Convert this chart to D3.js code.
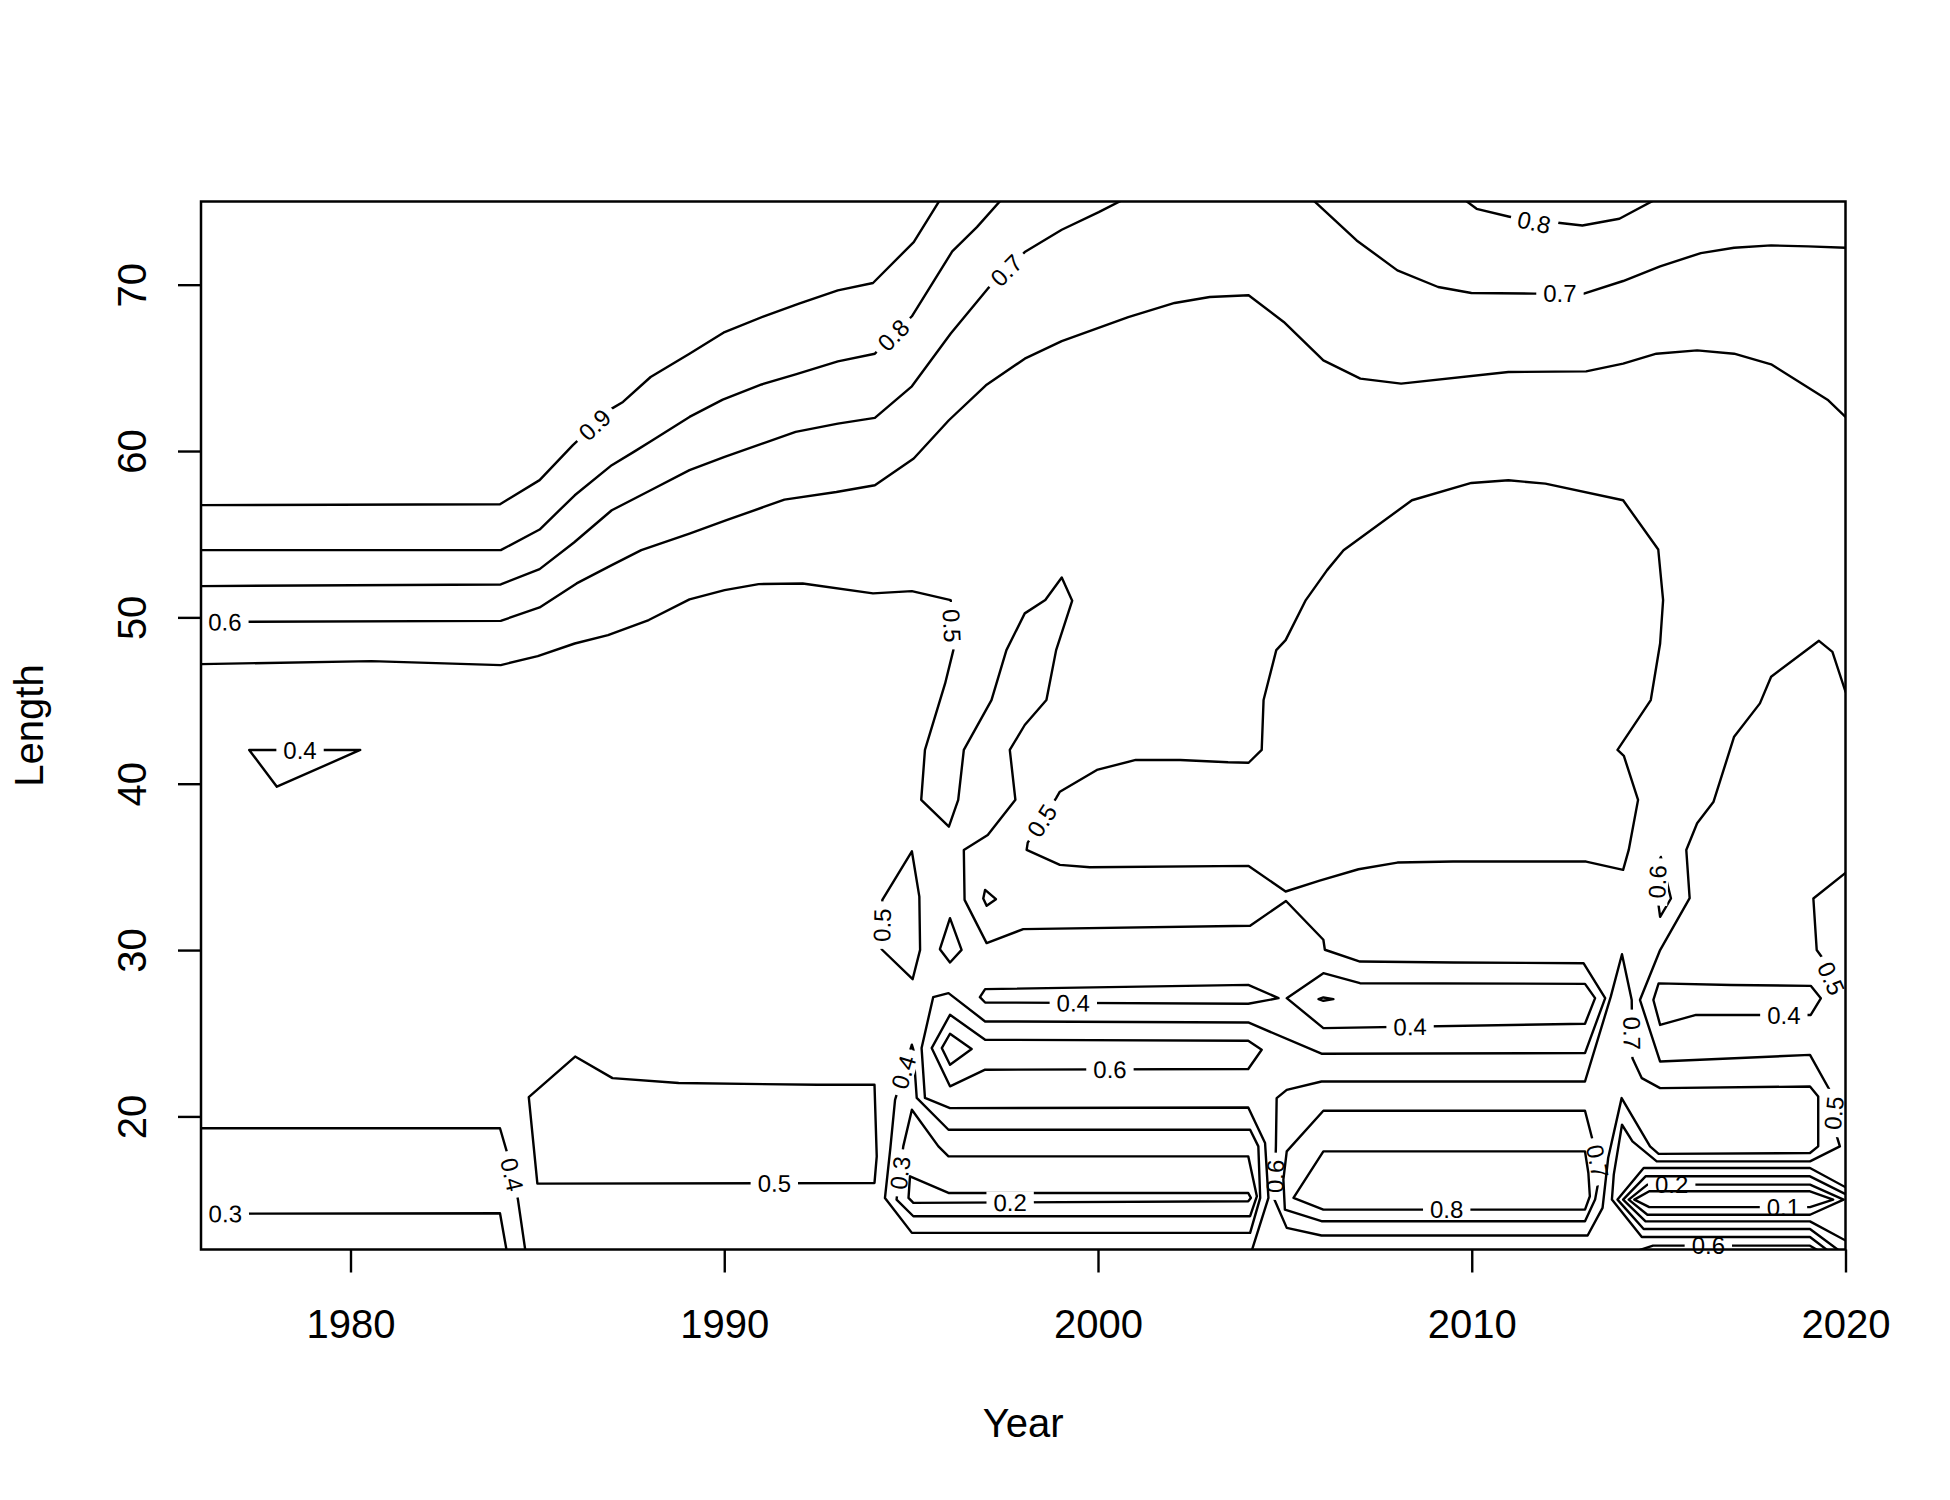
<!DOCTYPE html>
<html><head><meta charset="utf-8">
<script src="https://cdn.jsdelivr.net/npm/d3@7"></script>
<style>body{margin:0;background:#fff}</style>
</head><body>
<svg id="chart" width="1950" height="1500"></svg>
<script>
// ---------- axes data ----------
const xTicks = [1980, 1990, 2000, 2010, 2020];
const yTicks = [20, 30, 40, 50, 60, 70];
const xDomain = [1976, 2020];
const yDomain = [12, 75];
const xTitle = "Year";
const yTitle = "Length";

// ---------- contour polylines [year, length] ----------
const c09 = [[1976,56.75],[1984.0,56.8],[1985.06,58.25],[1985.95,60.35],[1986.99,62.55],[1987.29,62.95],[1988.03,64.45],[1989.07,65.85],[1990.01,67.15],[1991.06,68.1],[1992.0,68.86],[1993.04,69.66],[1993.98,70.1],[1995.07,72.56],[1995.8,75.2]];
const c08a = [[1976,54.04],[1984.02,54.04],[1985.06,55.28],[1986.0,57.34],[1986.99,59.15],[1987.58,59.95],[1988.08,60.65],[1989.07,62.05],[1989.96,63.09],[1991.0,64.0],[1991.91,64.61],[1993.04,65.39],[1994.03,65.85],[1995.02,68.1],[1996.1,72.0],[1996.76,73.46],[1997.45,75.2]];
const c07a = [[1976,51.88],[1984.02,51.98],[1985.06,52.9],[1985.98,54.5],[1986.99,56.44],[1988.03,57.64],[1989.07,58.85],[1990.01,59.65],[1991.91,61.15],[1993.04,61.65],[1994.03,61.99],[1995.02,63.89],[1996.06,67.06],[1997.05,69.76],[1998.04,71.96],[1999.03,73.3],[2000.02,74.36],[2000.75,75.2]];
const c06a = [[1976,49.73],[1984.02,49.79],[1985.06,50.6],[1986.05,52.04],[1986.99,53.14],[1987.78,54.04],[1989.07,55.04],[1990.06,55.84],[1991.61,57.08],[1993.0,57.54],[1994.03,57.94],[1995.07,59.55],[1996.01,61.85],[1997.0,63.95],[1998.04,65.55],[1999.03,66.61],[2000.81,68.05],[2002.05,68.9],[2002.99,69.26],[2004.03,69.36],[2004.97,67.76],[2006.03,65.45],[2007.02,64.35],[2008.11,64.05],[2010.98,64.75],[2013.06,64.79],[2014.05,65.25],[2014.94,65.85],[2016.03,66.05],[2017.02,65.85],[2018.01,65.21],[2019.54,63.05],[2020,62.05]];
const c07b = [[2005.7,75.2],[2006.92,72.66],[2008.01,70.86],[2009.1,69.86],[2009.99,69.5],[2011.67,69.46],[2013.0,69.46],[2014.05,70.22],[2015.04,71.1],[2016.13,71.9],[2017.02,72.22],[2018.01,72.36],[2019.0,72.3],[2020,72.22]];
const c08b = [[2009.75,75.2],[2010.13,74.56],[2010.98,74.1],[2011.67,73.76],[2012.31,73.72],[2012.96,73.56],[2013.95,73.96],[2014.98,75.2]];
const tri04 = [[1977.29,42.03],[1980.26,42.03],[1978.03,39.82]];
const g05 = [[1976,47.19],[1980.56,47.37],[1984.02,47.13],[1985.01,47.67],[1986.0,48.43],[1986.89,48.93],[1987.98,49.84],[1989.07,51.08],[1990.01,51.64],[1990.92,52.0],[1992.1,52.04],[1993.98,51.44],[1995.02,51.58],[1996.06,51.04],[1996.13,48.03],[1995.91,46.03],[1995.37,42.03],[1995.27,39.03],[1996.01,37.42],[1996.26,39.03],[1996.41,42.03],[1997.15,45.03],[1997.55,48.03],[1998.04,50.24],[1998.59,51.04],[1999.03,52.4],[1999.31,51.0],[1998.88,48.03],[1998.62,45.03],[1998.04,43.53],[1997.64,42.03],[1997.79,39.03],[1997.05,36.92],[1996.41,36.02],[1996.43,33.02],[1997.02,30.42],[1998.0,31.26],[2004.07,31.46],[2005.03,32.95],[2006.03,30.62],[2006.07,30.02],[2007.01,29.31],[2009.51,29.25],[2012.99,29.21],[2013.57,27.11],[2013.03,23.81],[2005.98,23.77],[2004.02,25.65],[1996.98,25.71],[1996.0,27.41],[1995.59,27.17],[1995.28,24.11],[1995.37,21.11],[1996.04,20.5],[2004.02,20.54],[2004.47,18.4],[2004.56,15.1],[2004.11,11.9]];
const blob05 = [[1998.09,36.02],[1998.12,36.46],[1998.88,39.13],[1998.98,39.52],[1999.97,40.83],[2001.01,41.43],[2002.2,41.43],[2003.48,41.29],[2004.03,41.26],[2004.38,42.03],[2004.43,45.03],[2004.77,48.03],[2005.02,48.63],[2005.56,51.04],[2006.13,52.84],[2006.57,54.04],[2008.4,57.04],[2009.99,58.08],[2010.98,58.24],[2011.97,58.04],[2014.05,57.04],[2014.99,54.08],[2015.12,51.04],[2015.04,48.43],[2014.79,45.03],[2013.9,42.03],[2014.07,41.67],[2014.45,39.03],[2014.2,36.02],[2014.05,34.82],[2013.06,35.32],[2009.5,35.32],[2008.01,35.26],[2006.97,34.86],[2005.93,34.17],[2005.02,33.52],[2004.03,35.06],[1999.78,34.98],[1998.98,35.12]];
const small05 = [[1995.02,35.94],[1995.22,33.21],[1995.24,30.01],[1995.04,28.25],[1994.21,30.05],[1994.23,33.02]];
const dia1 = [[1996.04,31.92],[1996.35,30.01],[1996.04,29.25],[1995.77,30.05]];
const dia2 = [[1996.98,33.62],[1997.27,33.06],[1997.02,32.66],[1996.93,33.1]];
const left04 = [[1976,19.29],[1984.0,19.29],[1984.18,17.9],[1984.48,15.0],[1984.68,11.9]];
const left03 = [[1976,14.15],[1984.0,14.18],[1984.18,11.9]];
const box05 = [[1984.77,21.16],[1986.01,23.6],[1987.01,22.3],[1988.78,22.01],[1992.49,21.9],[1994.02,21.9],[1994.08,17.6],[1994.02,16.0],[1985.0,15.96]];
const lp04 = [[1995.02,24.31],[1995.06,24.01],[1995.15,21.11],[1996.0,19.2],[2004.07,19.2],[2004.29,18.2],[2004.34,15.1],[2004.07,13.0],[1995.02,13.0],[1994.3,15.1],[1994.44,18.0],[1994.57,21.0]];
const lp03 = [[1995.02,20.4],[1995.73,18.2],[1996.0,17.6],[2004.02,17.6],[2004.25,15.2],[2004.07,14.0],[1995.06,14.0],[1994.61,15.0],[1994.79,18.2]];
const lp02 = [[1994.97,16.4],[1996.0,15.4],[2004.02,15.4],[2004.09,15.1],[2004.02,14.9],[1995.06,14.8],[1994.93,15.1]];
const lp06 = [[1995.55,24.11],[1996.04,26.11],[1996.98,24.61],[2004.02,24.55],[2004.38,24.01],[2004.02,22.85],[1996.98,22.81],[1996.04,21.81]];
const tri07 = [[1995.82,24.11],[1996.04,24.97],[1996.62,24.05],[1996.04,23.11]];
const lp04u = [[1996.84,27.17],[1996.98,27.65],[2004.02,27.91],[2004.83,27.11],[2004.02,26.77],[1996.98,26.85]];
const lp04r = [[2006.03,28.61],[2007.01,28.01],[2013.03,27.97],[2013.3,27.11],[2013.03,25.57],[2006.03,25.31],[2005.05,27.11]];
const dot04 = [[2005.9,27.05],[2006.03,27.15],[2006.3,27.05],[2006.03,26.95]];
const x06 = [[2013.03,22.1],[2013.72,27.2],[2014.02,29.75],[2014.28,27.0],[2014.3,23.5],[2014.55,22.3],[2015.04,21.7],[2019.05,21.8],[2019.27,21.2],[2019.27,18.2],[2019.05,17.8],[2015.0,17.75],[2014.77,18.2],[2014.01,21.1],[2013.65,17.5],[2013.5,14.5],[2013.1,12.84],[2005.98,12.84],[2005.05,13.3],[2004.72,15.0],[2004.76,18.2],[2004.78,21.1],[2005.05,21.6],[2005.98,22.1]];
const y07 = [[2006.03,20.34],[2013.03,20.34],[2013.3,18.0],[2013.43,16.6],[2013.3,15.0],[2013.03,13.7],[2005.98,13.7],[2005.0,14.4],[2004.96,16.2],[2005.05,17.9]];
const z08 = [[2006.03,17.9],[2013.03,17.9],[2013.12,16.6],[2013.16,15.2],[2013.03,14.4],[2006.03,14.4],[2005.23,15.1]];
const sl06 = [[2015.06,35.6],[2015.33,33.1],[2015.04,32.0],[2014.95,33.5],[2014.98,35.2]];
const big05r = [[2020,45.53],[2019.65,47.93],[2019.29,48.59],[2018.01,46.43],[2017.71,44.83],[2017.02,42.83],[2016.47,38.92],[2016.03,37.62],[2015.74,36.02],[2015.83,33.12],[2015.04,30.0],[2014.5,27.0],[2015.04,23.3],[2019.05,23.7],[2019.72,21.0],[2019.66,19.6],[2019.85,18.2],[2019.05,17.3],[2014.95,17.3],[2014.3,18.5],[2014.02,19.5],[2013.8,16.5],[2013.75,15.0],[2014.55,12.75],[2019.05,12.75],[2019.55,11.9]];
const r05bump = [[2020.2,35.0],[2019.14,33.1],[2019.23,30.0],[2019.36,29.6],[2019.62,28.3],[2020.2,26.6]];
const lp04rr = [[2014.86,27.0],[2015.0,28.0],[2016.94,27.9],[2019.07,27.85],[2019.34,27.1],[2019.07,26.1],[2016.0,26.1],[2015.04,25.5]];
const br01 = [[2014.35,15.0],[2014.75,15.5],[2019.05,15.5],[2019.67,15.0],[2019.05,14.55],[2014.75,14.55]];
const br02 = [[2014.2,15.0],[2014.7,15.9],[2019.05,15.9],[2019.95,15.0],[2019.05,14.09],[2014.7,14.09]];
const br03 = [[2020.2,15.1],[2019.05,16.4],[2014.65,16.4],[2014.05,15.0],[2014.65,13.69],[2019.05,13.69],[2020.2,12.3]];
const br04 = [[2020.2,15.5],[2019.05,16.9],[2014.6,16.9],[2013.9,15.0],[2014.6,13.23],[2019.05,13.23],[2019.85,11.9]];
const br06 = [[2014.4,11.9],[2014.85,12.23],[2019.05,12.23],[2019.3,11.9]];

const contours = [
  {pts:c09, closed:false}, {pts:c08a, closed:false}, {pts:c07a, closed:false}, {pts:c06a, closed:false},
  {pts:c07b, closed:false}, {pts:c08b, closed:false}, {pts:tri04, closed:true}, {pts:g05, closed:false},
  {pts:blob05, closed:true}, {pts:small05, closed:true}, {pts:dia1, closed:true}, {pts:dia2, closed:true},
  {pts:left04, closed:false}, {pts:left03, closed:false}, {pts:box05, closed:true},
  {pts:lp04, closed:true}, {pts:lp03, closed:true}, {pts:lp02, closed:true}, {pts:lp06, closed:true},
  {pts:tri07, closed:true}, {pts:lp04u, closed:true}, {pts:lp04r, closed:true}, {pts:dot04, closed:true},
  {pts:x06, closed:true}, {pts:y07, closed:true}, {pts:z08, closed:true},
  {pts:sl06, closed:true}, {pts:big05r, closed:false}, {pts:r05bump, closed:false}, {pts:lp04rr, closed:true},
  {pts:br01, closed:true}, {pts:br02, closed:true}, {pts:br03, closed:false}, {pts:br04, closed:false},
  {pts:br06, closed:false}
];

// contour labels: text, approximate position [year, length], contour it sits on
const labels = [
  {t:"0.9", p:[1986.54,61.55], on:c09},
  {t:"0.8", p:[1994.58,66.85], on:c08a},
  {t:"0.7", p:[1997.55,70.86], on:c07a},
  {t:"0.6", p:[1976.64,49.7], on:c06a},
  {t:"0.7", p:[2012.36,69.45], on:c07b},
  {t:"0.8", p:[2011.67,73.76], on:c08b},
  {t:"0.4", p:[1978.65,42.03], on:tri04},
  {t:"0.5", p:[1996.08,49.5], on:g05},
  {t:"0.5", p:[1998.54,37.72], on:blob05},
  {t:"0.5", p:[1994.22,31.5], on:small05},
  {t:"0.4", p:[1999.34,26.8], on:lp04u},
  {t:"0.6", p:[2000.32,22.8], on:lp06},
  {t:"0.4", p:[1994.8,22.65], on:lp04},
  {t:"0.3", p:[1994.7,16.6], on:lp03},
  {t:"0.2", p:[1997.65,14.8], on:lp02},
  {t:"0.4", p:[1984.3,16.5], on:left04},
  {t:"0.3", p:[1976.65,14.15], on:left03},
  {t:"0.5", p:[1991.34,15.96], on:box05},
  {t:"0.4", p:[2008.35,25.4], on:lp04r},
  {t:"0.8", p:[2009.33,14.4], on:z08},
  {t:"0.6", p:[2004.74,16.4], on:x06},
  {t:"0.7", p:[2013.37,17.3], on:y07},
  {t:"0.7", p:[2014.29,25.0], on:x06},
  {t:"0.6", p:[2014.97,34.1], on:sl06},
  {t:"0.4", p:[2018.35,26.1], on:lp04rr},
  {t:"0.5", p:[2019.69,20.2], on:big05r},
  {t:"0.5", p:[2019.62,28.3], on:r05bump},
  {t:"0.2", p:[2015.35,15.9], on:br02},
  {t:"0.1", p:[2018.34,14.55], on:br01},
  {t:"0.6", p:[2016.33,12.23], on:br06}
];

// ---------- drawing ----------
const FONT = "'Liberation Sans', Arial, Helvetica, sans-serif";
const svg = d3.select("#chart");
const x = d3.scaleLinear().domain(xDomain).range([201, 1845.5]);
const y = d3.scaleLinear().domain(yDomain).range([1249.5, 201.5]);
const defs = svg.append("defs");
defs.append("clipPath").attr("id","plotclip").append("rect")
  .attr("x", x(xDomain[0])).attr("y", y(yDomain[1]))
  .attr("width", x(xDomain[1]) - x(xDomain[0])).attr("height", y(yDomain[0]) - y(yDomain[1]));

const labFS = 24;
function place(lab){
  const P = lab.on.map(d => [x(d[0]), y(d[1])]);
  const c = contours.find(k => k.pts === lab.on);
  const segs = [];
  for (let i = 0; i < P.length - 1; i++) segs.push([P[i], P[i+1]]);
  if (c && c.closed) segs.push([P[P.length-1], P[0]]);
  const q = [x(lab.p[0]), y(lab.p[1])];
  let best = null;
  segs.forEach(([a,b]) => {
    const dx = b[0]-a[0], dy = b[1]-a[1];
    const L2 = dx*dx + dy*dy || 1;
    let t = ((q[0]-a[0])*dx + (q[1]-a[1])*dy) / L2;
    t = Math.max(0, Math.min(1, t));
    const px = a[0] + t*dx, py = a[1] + t*dy;
    const dist = Math.hypot(q[0]-px, q[1]-py);
    if (!best || dist < best.dist) best = {dist, px, py, dx, dy};
  });
  let ang = Math.atan2(best.dy, best.dx) * 180 / Math.PI;
  while (ang > 90) ang -= 180;
  while (ang <= -90) ang += 180;
  return {px: best.px, py: best.py, ang};
}
labels.forEach(l => Object.assign(l, place(l)));

contours.forEach((c, i) => {
  const mine = labels.filter(l => l.on === c.pts);
  if (!mine.length) return;
  const m = defs.append("mask").attr("id", "m" + i).attr("maskUnits","userSpaceOnUse")
    .attr("x",0).attr("y",0).attr("width",1950).attr("height",1500);
  m.append("rect").attr("x",0).attr("y",0).attr("width",1950).attr("height",1500).attr("fill","#fff");
  mine.forEach(l => {
    const w = labFS * 1.39 + 14, h = 22;
    m.append("rect").attr("x", -w/2).attr("y", -h/2).attr("width", w).attr("height", h)
      .attr("fill","#000").attr("transform", `translate(${l.px},${l.py}) rotate(${l.ang})`);
  });
  c.mask = "m" + i;
});

const line = d3.line().x(d => x(d[0])).y(d => y(d[1]));
const gC = svg.append("g").attr("clip-path","url(#plotclip)");
contours.forEach(c => {
  const p = gC.append("path")
    .attr("d", line(c.pts) + (c.closed ? "Z" : ""))
    .attr("fill","none").attr("stroke","#000").attr("stroke-width",2.4)
    .attr("stroke-linejoin","round").attr("stroke-linecap","round");
  if (c.mask) p.attr("mask", `url(#${c.mask})`);
});

svg.append("g").selectAll("text").data(labels).join("text")
  .attr("transform", d => `translate(${d.px},${d.py}) rotate(${d.ang})`)
  .attr("text-anchor","middle").attr("dy","0.36em")
  .attr("font-family", FONT).attr("font-size", labFS).attr("fill","#000")
  .text(d => d.t);

svg.append("rect").attr("x", x(xDomain[0])).attr("y", y(yDomain[1]))
  .attr("width", x(xDomain[1]) - x(xDomain[0])).attr("height", y(yDomain[0]) - y(yDomain[1]))
  .attr("fill","none").attr("stroke","#000").attr("stroke-width",2.5);

const gx = svg.append("g").attr("transform", `translate(0,${y(yDomain[0])})`)
  .call(d3.axisBottom(x).tickValues(xTicks).tickSize(23).tickFormat(d3.format("d")));
gx.attr("font-size", 40).attr("font-family", FONT);
gx.select(".domain").remove();
gx.selectAll(".tick line").attr("stroke","#000").attr("stroke-width",2.4);
gx.selectAll(".tick text").attr("y", 88.5).attr("dy", 0).attr("fill","#000");

const gy = svg.append("g").attr("transform", `translate(${x(xDomain[0])},0)`)
  .call(d3.axisLeft(y).tickValues(yTicks).tickSize(23));
gy.attr("font-size", 40).attr("font-family", FONT);
gy.select(".domain").remove();
gy.selectAll(".tick line").attr("stroke","#000").attr("stroke-width",2.4);
gy.selectAll(".tick text").attr("x", 0).attr("dy", 0).attr("fill","#000")
  .attr("text-anchor","middle").attr("transform","translate(-55,0) rotate(-90)");

svg.append("text").attr("x", (x(xDomain[0]) + x(xDomain[1]))/2).attr("y", 1437)
  .attr("text-anchor","middle").attr("font-family", FONT).attr("font-size", 40).text(xTitle);
svg.append("text").attr("transform", `translate(43,${(y(yDomain[0]) + y(yDomain[1]))/2}) rotate(-90)`)
  .attr("text-anchor","middle").attr("font-family", FONT).attr("font-size", 40).text(yTitle);
</script>
</body></html>
